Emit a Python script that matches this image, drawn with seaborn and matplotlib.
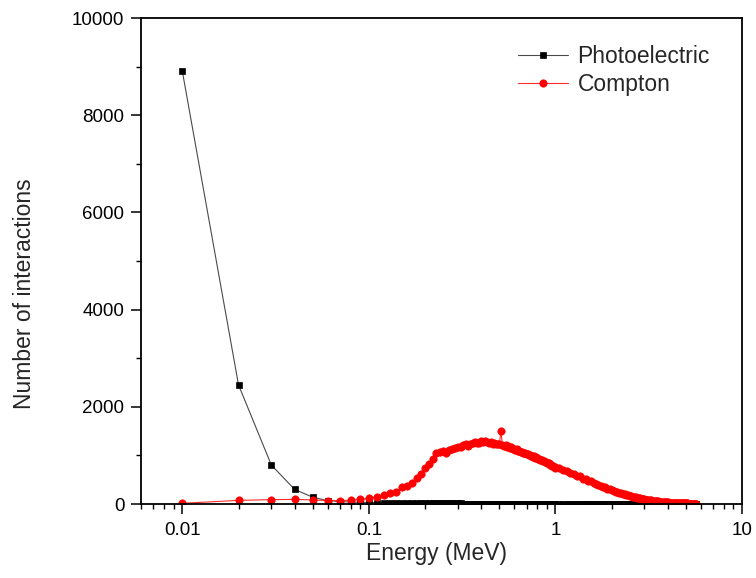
import numpy as np
import pandas as pd
import matplotlib
matplotlib.use("Agg")
import matplotlib.pyplot as plt
from matplotlib.ticker import LogLocator, MultipleLocator, NullFormatter
import seaborn as sns

# Energy bins (MeV): 0.01 MeV steps up to 1 MeV, 0.05 MeV steps above
energy_fine = np.round(np.arange(1, 101) * 0.01, 2)
energy_coarse = np.round(1.0 + np.arange(1, 95) * 0.05, 2)

photo_fine = [
    8900, 2450, 800, 300, 140, 70, 50, 40, 35, 32,
    30, 28, 27, 26, 25, 24, 23, 22, 21, 20,
    19, 18, 17, 16, 15, 15, 14, 13, 12, 12,
    11, 10, 10, 9, 9, 8, 8, 7, 7, 7,
    6, 6, 6, 5, 5, 5, 5, 4, 4, 4,
    4, 4, 4, 3, 3, 3, 3, 3, 3, 3,
    3, 2, 2, 2, 2, 2, 2, 2, 2, 2,
    2, 2, 2, 2, 2, 1, 1, 1, 1, 1,
    1, 1, 1, 1, 1, 1, 1, 1, 1, 1,
    1, 1, 1, 1, 1, 1, 1, 1, 1, 1,
]
photo_coarse = [
    1, 1, 1, 1, 1, 1, 1, 1, 1, 1, 1, 1, 1, 1, 1, 1, 1, 1, 1, 1,
    0, 0, 0, 0, 0, 0, 0, 0, 0, 0, 0, 0, 0, 0, 0, 0, 0, 0, 0, 0,
    0, 0, 0, 0, 0, 0, 0, 0, 0, 0, 0, 0, 0, 0, 0, 0, 0, 0, 0, 0,
    0, 0, 0, 0, 0, 0, 0, 0, 0, 0, 0, 0, 0, 0, 0, 0, 0, 0, 0, 0,
    0, 0, 0, 0, 0, 0, 0, 0, 0, 0, 0, 0, 0, 0,
]

compton_fine = [
    15, 75, 90, 95, 85, 70, 70, 78, 96, 117,
    150, 185, 233, 255, 340, 370, 440, 528, 625, 745,
    830, 935, 1040, 1076, 1090, 1055, 1110, 1140, 1150, 1175,
    1165, 1210, 1225, 1195, 1240, 1255, 1280, 1250, 1265, 1295,
    1270, 1305, 1280, 1255, 1270, 1245, 1260, 1230, 1245, 1225,
    1500, 1210, 1195, 1205, 1180, 1185, 1160, 1170, 1140, 1130,
    1120, 1125, 1095, 1100, 1075, 1080, 1055, 1060, 1040, 1030,
    1020, 1010, 1015, 995, 990, 975, 980, 955, 960, 940,
    935, 925, 915, 905, 900, 880, 885, 865, 860, 850,
    835, 840, 820, 810, 800, 790, 785, 770, 760, 750,
]
compton_coarse = [
    735, 690, 675, 630, 620, 575, 570, 525, 515, 480,
    465, 440, 420, 395, 380, 355, 345, 315, 308, 285,
    278, 255, 250, 230, 225, 205, 200, 185, 180, 165,
    162, 150, 143, 135, 130, 120, 115, 106, 102, 96,
    92, 85, 82, 76, 74, 68, 66, 60, 59, 55,
    53, 49, 48, 44, 43, 40, 39, 36, 35, 33,
    31, 30, 29, 27, 26, 25, 24, 23, 22, 21,
    20, 19, 18, 17, 16, 15, 15, 14, 13, 12,
    11, 11, 10, 9, 8, 7, 7, 6, 5, 4,
    4, 3, 2, 1,
]

x_ticks = [0.01, 0.1, 1, 10]
x_tick_labels = ["0.01", "0.1", "1", "10"]

df = pd.DataFrame({
    "Energy": np.concatenate([energy_fine, energy_coarse]),
    "Photoelectric": photo_fine + photo_coarse,
    "Compton": compton_fine + compton_coarse,
})

sns.set_style("ticks")
plt.rcParams["font.family"] = ["Liberation Sans", "DejaVu Sans"]

fig = plt.figure(figsize=(7.56, 5.78), dpi=100)
ax = fig.add_axes([0.1865, 0.128, 0.795, 0.8408])

sns.lineplot(data=df, x="Energy", y="Photoelectric", ax=ax,
             estimator=None, errorbar=None, color="#4a4a4a", lw=0.8,
             marker="s", markersize=4.2, markerfacecolor="black",
             markeredgecolor="black", markeredgewidth=0.5,
             label="Photoelectric")
sns.lineplot(data=df, x="Energy", y="Compton", ax=ax,
             estimator=None, errorbar=None, color="#ff2a2a", lw=0.8,
             marker="o", markersize=5.3, markerfacecolor="red",
             markeredgecolor="red", markeredgewidth=0.5,
             label="Compton")

ax.set_xscale("log")
ax.set_xlim(0.006, 10)
ax.set_ylim(0, 10000)
ax.set_xticks(x_ticks)
ax.set_xticklabels(x_tick_labels)
ax.xaxis.set_minor_locator(LogLocator(base=10, subs=np.arange(2, 10)))
ax.xaxis.set_minor_formatter(NullFormatter())
ax.yaxis.set_major_locator(MultipleLocator(2000))
ax.yaxis.set_minor_locator(MultipleLocator(1000))

ax.tick_params(which="major", direction="out", length=7, width=1.1,
               labelsize=13.5, color="black", labelcolor="black")
ax.tick_params(which="minor", direction="out", length=3.5, width=1.0,
               color="black")
ax.tick_params(axis="x", which="major", pad=6)
ax.tick_params(axis="y", which="major", pad=5)
ax.tick_params(top=False, right=False, which="both")

for side in ["left", "right", "top", "bottom"]:
    ax.spines[side].set_visible(True)
    ax.spines[side].set_linewidth(1.3)
    ax.spines[side].set_color("black")

ax.set_xlabel("Energy (MeV)", fontsize=16.5)
ax.set_ylabel("Number of interactions", fontsize=16.5)
ax.xaxis.set_label_coords(0.4925, -0.078)
ax.yaxis.set_label_coords(-0.175, 0.432)

ax.legend(loc="upper left", bbox_to_anchor=(0.627, 0.944), frameon=False,
          fontsize=16.5, borderpad=0, borderaxespad=0, handlelength=2.2,
          handletextpad=0.4, labelspacing=0.2)

fig.savefig("out.png", dpi=100)
